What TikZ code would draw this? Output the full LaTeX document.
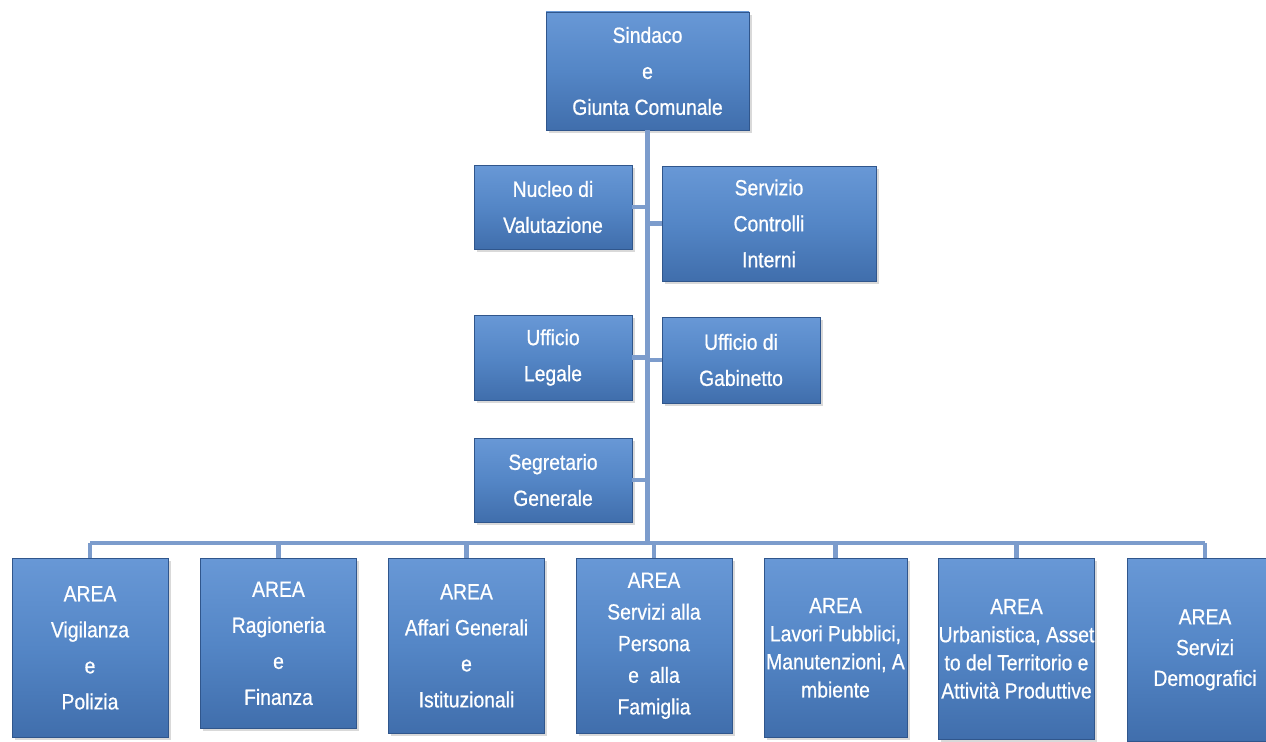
\documentclass[tikz,border=0pt]{standalone}
\usepackage{fontspec}
\setmainfont[FakeStretch=0.88,BoldFont={Liberation Sans},BoldFeatures={FakeBold=0.7}]{Liberation Sans}
\usepackage{tikz}
\usetikzlibrary{positioning}
\usetikzlibrary{shadows}
\definecolor{boxtop}{RGB}{104,152,214}
\definecolor{boxmid}{RGB}{84,134,198}
\definecolor{boxbot}{RGB}{64,110,172}
\definecolor{boxedge}{RGB}{48,86,140}
\definecolor{linkblue}{RGB}{124,156,204}
\tikzset{
    orgbox/.style = {rectangle, draw=boxedge, thin, top color=boxtop, bottom color=boxbot, middle color=boxmid,
                     align=center, inner sep=0pt, text=white, drop shadow={opacity=0.3,shadow xshift=1.5pt,shadow yshift=-1.5pt},
                     font=\fontsize{12.5}{20.5}\selectfont\bfseries},
    areabox/.style = {orgbox, anchor=north, minimum width=3.12cm},
    dense/.style = {font=\fontsize{12.5}{16}\selectfont\bfseries},
    linkline/.style = {-, line width=2.8pt, linkblue},
}

\begin{document}
\begin{tikzpicture}
%
\path[use as bounding box] (0,0) rectangle (25.32,-14.84);
%
\node[orgbox, minimum width=4.06cm, minimum height=2.36cm] at (12.95,-1.42) (sindaco) {Sindaco\\e\\Giunta Comunale};
\node[orgbox, minimum width=3.16cm, minimum height=1.68cm] at (11.06,-4.14) (nucleo) {Nucleo di\\Valutazione};
\node[orgbox, minimum width=4.28cm, minimum height=2.30cm] at (15.38,-4.47) (controlli) {Servizio\\Controlli\\Interni};
\node[orgbox, minimum width=3.16cm, minimum height=1.70cm] at (11.06,-7.15) (legale) {Ufficio\\Legale};
\node[orgbox, minimum width=3.16cm, minimum height=1.72cm] at (14.82,-7.20) (gabinetto) {Ufficio di\\Gabinetto};
\node[orgbox, minimum width=3.16cm, minimum height=1.68cm] at (11.06,-9.60) (segretario) {Segretario\\Generale};
%
\node[areabox, minimum height=3.58cm] at (1.80,-11.16) (vigilanza) {AREA\\Vigilanza\\e\\Polizia};
\node[areabox, minimum height=3.40cm] at (5.57,-11.16) (ragioneria) {AREA\\Ragioneria\\e\\Finanza};
\node[areabox, minimum height=3.50cm] at (9.33,-11.16) (affari) {AREA\\Affari Generali\\e\\Istituzionali};
\node[areabox, minimum height=3.50cm, font=\fontsize{12.5}{18}\selectfont\bfseries] at (13.08,-11.16) (persona) {AREA\\Servizi alla\\Persona\\e\ \ alla\\Famiglia};
\node[areabox, dense, minimum width=2.86cm, minimum height=3.58cm] at (16.71,-11.16) (lavori) {AREA\\Lavori Pubblici,\\Manutenzioni, A\\mbiente};
\node[areabox, dense, minimum height=3.62cm] at (20.33,-11.16) (urbanistica) {AREA\\Urbanistica, Asset\\to del Territorio e\\Attività Produttive};
\node[areabox, minimum height=3.66cm, font=\fontsize{12.5}{17.5}\selectfont\bfseries] at (24.10,-11.16) (demografici) {AREA\\Servizi\\Demografici};
%
\coordinate (bus) at (12.96,-10.86);
\draw[linkline] (sindaco.south) -- (sindaco.south |- bus);
\draw[linkline] (vigilanza.north |- bus) -- (demografici.north |- bus);
\draw[linkline] (nucleo.east) -- (nucleo.east -| sindaco.south);
\draw[linkline] (controlli.west) -- (controlli.west -| sindaco.south);
\draw[linkline] (legale.east) -- (legale.east -| sindaco.south);
\draw[linkline] (gabinetto.west) -- (gabinetto.west -| sindaco.south);
\draw[linkline] (segretario.east) -- (segretario.east -| sindaco.south);
\foreach \n in {vigilanza,ragioneria,affari,persona,lavori,urbanistica,demografici}
    \draw[linkline] (\n.north |- bus) -- (\n.north);

\end{tikzpicture}
\end{document}
